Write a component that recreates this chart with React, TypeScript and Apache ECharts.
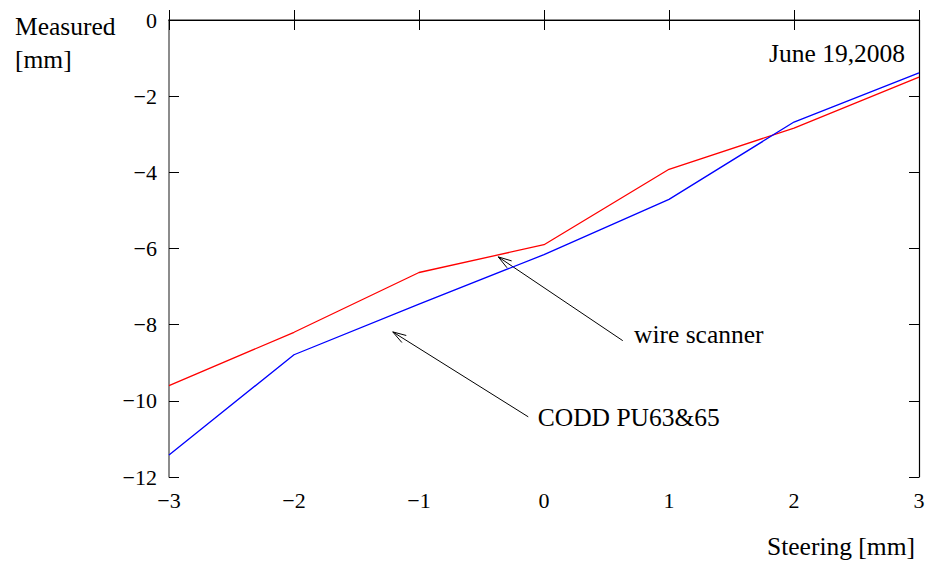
import React, { useEffect, useRef } from "react";
import * as echarts from "echarts";

const steering = [-3, -2, -1, 0, 1, 2, 3];
const wireScanner = [-9.6, -8.2, -6.63, -5.9, -3.92, -2.84, -1.5];
const coddPU = [-11.42, -8.79, -7.46, -6.16, -4.71, -2.68, -1.39];
// annotation arrows: [tailX, tailY, tipX, tipY, labelX, labelY, label]
const annotations: [number, number, number, number, number, number, string][] = [
  [0.63, -8.42, -0.366, -6.22, 0.72, -8.25, "wire scanner"],
  [-0.126, -10.42, -1.21, -8.19, -0.05, -10.45, "CODD PU63&65"],
];
const dateLabel = "June 19,2008";
const xName = "Steering [mm]";
const yName = "Measured\n[mm]";

const FONT = "'Liberation Serif', 'Times New Roman', serif";
const fmt = (v: number) => String(v).replace("-", "\u2212");

export default function App() {
  const ref = useRef<HTMLDivElement>(null);
  useEffect(() => {
    if (!ref.current) return;
    const chart = echarts.init(ref.current, null, { renderer: "svg" });
    const xy = (arr: number[]) => steering.map((x, i) => [x, arr[i]]);
    chart.setOption({
      animation: false,
      backgroundColor: "#ffffff",
      grid: { left: 169, right: 9, top: 20, bottom: 84, containLabel: false },
      xAxis: [
        {
          type: "value",
          min: -3,
          max: 3,
          interval: 1,
          position: "bottom",
          axisLine: { show: true, lineStyle: { color: "#666666", width: 1.5 } },
          axisTick: { show: true, inside: true, length: 10, lineStyle: { color: "#000" } },
          axisLabel: { formatter: fmt, color: "#000", fontFamily: FONT, fontSize: 22, margin: 12 },
          splitLine: { show: false },
        },
        {
          type: "value",
          min: -3,
          max: 3,
          interval: 1,
          position: "top",
          axisLine: { show: true, onZero: false, lineStyle: { color: "#000", width: 1.2 } },
          axisTick: { show: true, inside: true, length: 10, lineStyle: { color: "#000" } },
          axisLabel: { show: false },
          splitLine: { show: false },
        },
      ],
      yAxis: [
        {
          type: "value",
          min: -12,
          max: 0,
          interval: 2,
          position: "left",
          axisLine: { show: true, onZero: false, lineStyle: { color: "#666666", width: 1.5 } },
          axisTick: { show: true, inside: true, length: 10, lineStyle: { color: "#000" } },
          axisLabel: { formatter: fmt, color: "#000", fontFamily: FONT, fontSize: 22, margin: 12 },
          splitLine: { show: false },
        },
        {
          type: "value",
          min: -12,
          max: 0,
          interval: 2,
          position: "right",
          axisLine: { show: true, onZero: false, lineStyle: { color: "#000", width: 1.2 } },
          axisTick: { show: true, inside: true, length: 10, lineStyle: { color: "#000" } },
          axisLabel: { show: false },
          splitLine: { show: false },
        },
      ],
      graphic: [
        { type: "text", left: 15, top: 10, style: { text: yName, font: `25.5px ${FONT}`, fill: "#000", lineHeight: 33 } },
        { type: "text", right: 23, top: 40, style: { text: dateLabel, font: `25.5px ${FONT}`, fill: "#000" } },
        { type: "text", right: 13, top: 533, style: { text: xName, font: `25.5px ${FONT}`, fill: "#000" } },
      ],
      series: [
        {
          type: "line",
          name: "wire scanner",
          data: xy(wireScanner),
          symbol: "none",
          lineStyle: { color: "#ff0000", width: 1.3 },
        },
        {
          type: "line",
          name: "CODD PU63&65",
          data: xy(coddPU),
          symbol: "none",
          lineStyle: { color: "#0000ff", width: 1.3 },
        },
        {
          type: "custom",
          data: annotations.map((a) => [a[0], a[1], a[2], a[3], a[4], a[5]]),
          renderItem: (params: any, api: any) => {
            const idx = params.dataIndex;
            const t = api.coord([api.value(0), api.value(1)]);
            const h = api.coord([api.value(2), api.value(3)]);
            const l = api.coord([api.value(4), api.value(5)]);
            const ang = Math.atan2(t[1] - h[1], t[0] - h[0]);
            const len = 14;
            const spread = 0.3;
            const p1 = [h[0] + len * Math.cos(ang + spread), h[1] + len * Math.sin(ang + spread)];
            const p2 = [h[0] + len * Math.cos(ang - spread), h[1] + len * Math.sin(ang - spread)];
            const st = { stroke: "#000", lineWidth: 1, fill: null };
            return {
              type: "group",
              children: [
                { type: "line", shape: { x1: t[0], y1: t[1], x2: h[0], y2: h[1] }, style: st },
                { type: "polyline", shape: { points: [p1, h, p2] }, style: st },
                {
                  type: "text",
                  x: l[0],
                  y: l[1],
                  style: {
                    text: annotations[idx][6],
                    font: `25.5px ${FONT}`,
                    fill: "#000",
                    textAlign: "left",
                    textVerticalAlign: "middle",
                    verticalAlign: "middle",
                  },
                },
              ],
            };
          },
        },
      ],
    });
    return () => chart.dispose();
  }, []);
  return <div ref={ref} style={{ width: 928, height: 561, position: "absolute", left: 0, top: 0 }} />;
}
